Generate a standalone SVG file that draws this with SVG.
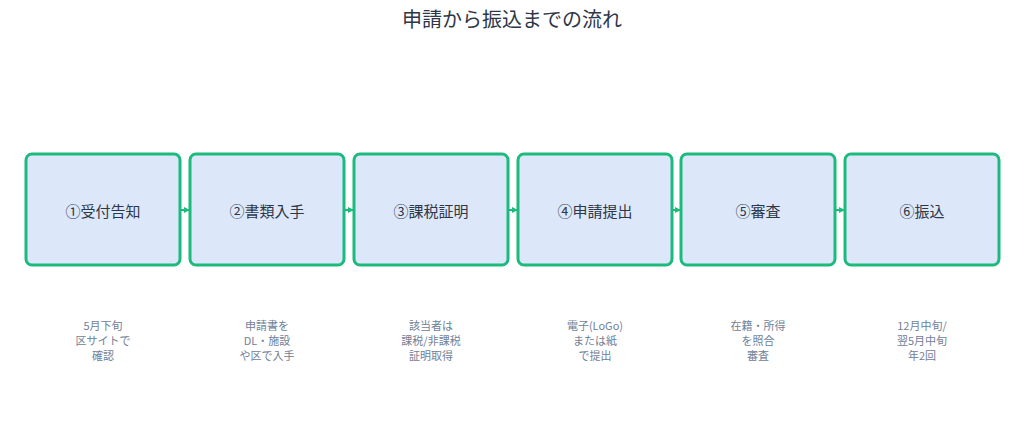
<svg xmlns="http://www.w3.org/2000/svg" width="1024" height="431" viewBox="0 0 1024 431">
<style>
.box{fill:#dce8fa;stroke:#1dba7e;stroke-width:3}
.lbl{font-family:"Noto Sans CJK JP","Noto Sans",sans-serif;font-size:15px;fill:#2d3748;text-anchor:middle;dominant-baseline:central}
.note{font-family:"Noto Sans CJK JP","Noto Sans",sans-serif;font-size:11px;fill:#718096;text-anchor:middle}
.title{font-family:"Noto Sans CJK JP","Noto Sans",sans-serif;font-size:20px;fill:#2d3748;text-anchor:middle}
.edge{stroke:#1dba7e;stroke-width:2;fill:none}
</style>
<defs><marker id="ah" markerWidth="6" markerHeight="6" refX="5" refY="3" orient="auto" markerUnits="userSpaceOnUse"><path d="M0,0L6,3L0,6z" fill="#1dba7e"/></marker></defs>
<rect width="1024" height="431" fill="#fff"/>
<text class="title" x="512" y="27">申請から振込までの流れ</text>
<g id="connectors">
<line class="edge" x1="180" y1="210" x2="189" y2="210" marker-end="url(#ah)"/>
<line class="edge" x1="344" y1="210" x2="353" y2="210" marker-end="url(#ah)"/>
<line class="edge" x1="508" y1="210" x2="517" y2="210" marker-end="url(#ah)"/>
<line class="edge" x1="672" y1="210" x2="680" y2="210" marker-end="url(#ah)"/>
<line class="edge" x1="835" y1="210" x2="844" y2="210" marker-end="url(#ah)"/>
</g>
<g id="n1"><rect class="box" x="26" y="154" width="154" height="111" rx="6"/><text class="lbl" x="103" y="210">①受付告知</text>
<text class="note" x="103" y="330">5月下旬</text><text class="note" x="103" y="345">区サイトで</text><text class="note" x="103" y="360">確認</text></g>
<g id="n2"><rect class="box" x="190" y="154" width="154" height="111" rx="6"/><text class="lbl" x="267" y="210">②書類入手</text>
<text class="note" x="267" y="330">申請書を</text><text class="note" x="267" y="345">DL・施設</text><text class="note" x="267" y="360">や区で入手</text></g>
<g id="n3"><rect class="box" x="354" y="154" width="154" height="111" rx="6"/><text class="lbl" x="431" y="210">③課税証明</text>
<text class="note" x="431" y="330">該当者は</text><text class="note" x="431" y="345">課税/非課税</text><text class="note" x="431" y="360">証明取得</text></g>
<g id="n4"><rect class="box" x="518" y="154" width="154" height="111" rx="6"/><text class="lbl" x="595" y="210">④申請提出</text>
<text class="note" x="595" y="330">電子(LoGo)</text><text class="note" x="595" y="345">または紙</text><text class="note" x="595" y="360">で提出</text></g>
<g id="n5"><rect class="box" x="681" y="154" width="154" height="111" rx="6"/><text class="lbl" x="758" y="210">⑤審査</text>
<text class="note" x="758" y="330">在籍・所得</text><text class="note" x="758" y="345">を照合</text><text class="note" x="758" y="360">審査</text></g>
<g id="n6"><rect class="box" x="845" y="154" width="154" height="111" rx="6"/><text class="lbl" x="922" y="210">⑥振込</text>
<text class="note" x="922" y="330">12月中旬/</text><text class="note" x="922" y="345">翌5月中旬</text><text class="note" x="922" y="360">年2回</text></g>
</svg>
